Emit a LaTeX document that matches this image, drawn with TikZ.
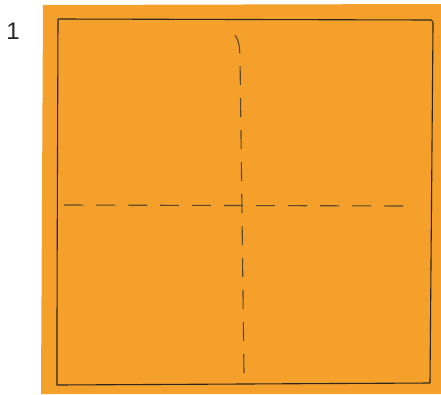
\documentclass[tikz,border=0pt]{standalone}
\usepackage{fontspec}
\setmainfont{Liberation Sans}
\usepackage{xcolor}
\usepackage{tikz}
\definecolor{FoldOrange}{HTML}{F4A02A}
\definecolor{FoldInk}{HTML}{2B2620}
\definecolor{FoldCrease}{HTML}{5C4A2E}

\begin{document}
\begin{tikzpicture}[x=1pt,y=-1pt,
    edgeline/.style={FoldInk,line width=1.1pt,line join=round},
    creaseline/.style={FoldCrease,line width=1.1pt,dash pattern=on 19pt off 13pt}]
  \useasboundingbox (0,0) rectangle (441,394);
  % Step number.
  \node[font=\fontsize{24}{26}\selectfont,text=black!85] (stepnum) at (13,31) {1};

  % Paper sheet.
  \fill[FoldOrange] (43,5) -- (441,4) -- (441,394) -- (41,394) -- cycle;
  \draw[edgeline] (58,19) -- (431,20) .. controls (433,21) .. (433,26)
        -- (430,383) -- (57,385) .. controls (57,300) .. (58,19);

  % Creases.
  \draw[creaseline] (64,205) -- (406,206);
  \draw[creaseline] (235,35) .. controls (239,42) .. (240,56) -- (244,373);
\end{tikzpicture}
\end{document}
